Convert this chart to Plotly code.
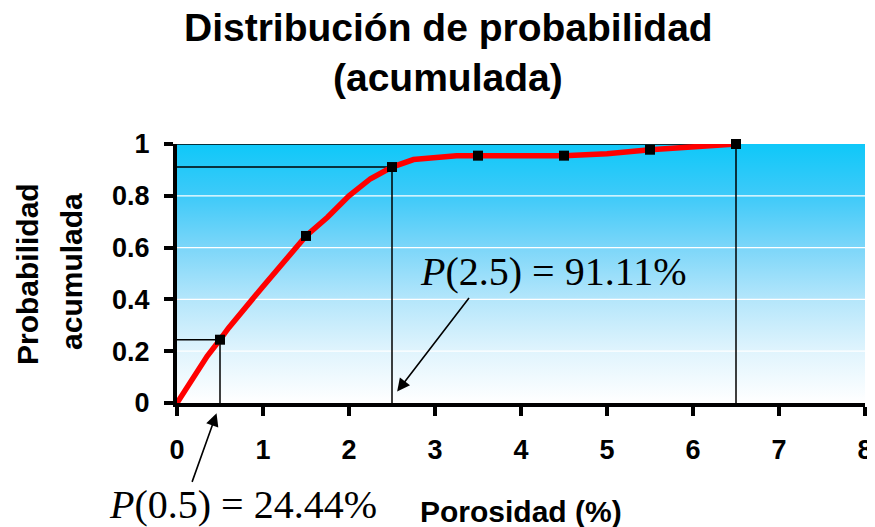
import plotly.graph_objects as go

# ---- data ----
x_markers = [0.5, 1.5, 2.5, 3.5, 4.5, 5.5, 6.5]
p_markers = [0.2444, 0.645, 0.9111, 0.955, 0.955, 0.978, 1.0]

curve_x = [0, 0.35, 0.5, 0.6, 1.0, 1.5, 1.75, 2.0, 2.25, 2.5, 2.75, 3.25, 3.5, 4.5, 5.0, 5.5, 6.5]
curve_y = [0, 0.18, 0.2444, 0.29, 0.45, 0.645, 0.717, 0.80, 0.866, 0.9111, 0.94, 0.955, 0.955, 0.955, 0.962, 0.978, 1.0]

guide_x = [0.5, 2.5, 6.5]
guide_p = [0.2444, 0.9111, 1.0]

x_ticks = [0, 1, 2, 3, 4, 5, 6, 7, 8]
y_ticks = [0, 0.2, 0.4, 0.6, 0.8, 1]
y_tick_labels = ["0", "0.2", "0.4", "0.6", "0.8", "1"]

title_lines = ["Distribución de probabilidad", "(acumulada)"]
x_title = "Porosidad (%)"
y_title_lines = ["Probabilidad", "acumulada"]
label_25 = "<i>P</i>(2.5) = 91.11%"
label_05 = "<i>P</i>(0.5) = 24.44%"

# ---- figure ----
X0, X1 = x_ticks[0], x_ticks[-1]
Y0, Y1 = y_ticks[0], y_ticks[-1]

SANS = "Liberation Sans, Arial, sans-serif"
SERIF = "Liberation Serif, Times New Roman, serif"

fig = go.Figure()

# gradient background
fig.add_trace(go.Scatter(
    x=[X0, X1, X1, X0, X0], y=[Y0, Y0, Y1, Y1, Y0],
    mode="lines", line=dict(width=0), fill="toself",
    fillgradient=dict(type="vertical", colorscale=[
        [0.0, "#ffffff"], [0.2, "#e0f4fd"], [0.4, "#b4e6fb"],
        [0.6, "#7cd6f9"], [0.8, "#3ecaf9"], [1.0, "#0fc8f9"]]),
    hoverinfo="skip", showlegend=False))

# white gridlines
for v in y_ticks[1:-1]:
    fig.add_trace(go.Scatter(x=[X0, X1], y=[v, v], mode="lines",
                             line=dict(color="white", width=1.2),
                             hoverinfo="skip", showlegend=False))

# guide lines
for gx, gp in zip(guide_x, guide_p):
    fig.add_trace(go.Scatter(x=[X0, gx, gx], y=[gp, gp, Y0], mode="lines",
                             line=dict(color="black", width=1.5),
                             hoverinfo="skip", showlegend=False))

# red curve
fig.add_trace(go.Scatter(x=curve_x, y=curve_y, mode="lines",
                         line=dict(color="#ff0000", width=5.5),
                         hoverinfo="skip", showlegend=False))

# markers
fig.add_trace(go.Scatter(x=x_markers, y=p_markers, mode="markers",
                         marker=dict(symbol="square", size=10, color="black"),
                         hoverinfo="skip", showlegend=False, cliponaxis=False))

axis_common = dict(showline=True, linecolor="black", linewidth=4,
                   ticks="outside", ticklen=9, tickwidth=4, tickcolor="black",
                   showgrid=False, zeroline=False, automargin=False,
                   tickfont=dict(family=SANS, size=27, color="black", weight="bold"))

fig.update_xaxes(range=[X0, X1], tickvals=x_ticks, ticktext=[str(t) for t in x_ticks],
                 ticklabelstandoff=11, **axis_common)
fig.update_yaxes(range=[Y0, Y1], tickvals=y_ticks, ticktext=y_tick_labels,
                 ticklabelstandoff=9, **axis_common)

bold_sans = lambda s: dict(family=SANS, size=s, color="black", weight="bold")

annotations = [
    dict(text=title_lines[0], xref="paper", yref="paper", x=(448 - 177) / 688, y=1.448,
         xanchor="center", yanchor="middle", showarrow=False, font=bold_sans(39)),
    dict(text=title_lines[1], xref="paper", yref="paper", x=(448 - 177) / 688, y=1.255,
         xanchor="center", yanchor="middle", showarrow=False, font=bold_sans(39)),
    dict(text=x_title, xref="paper", yref="paper", x=0.5, y=-0.42,
         xanchor="center", yanchor="middle", showarrow=False, font=bold_sans(30)),
    dict(text=y_title_lines[0], xref="paper", yref="paper", x=-0.218, y=0.498,
         xanchor="center", yanchor="middle", textangle=-90, showarrow=False,
         font=bold_sans(30)),
    dict(text=y_title_lines[1], xref="paper", yref="paper", x=-0.1526, y=0.506,
         xanchor="center", yanchor="middle", textangle=-90, showarrow=False,
         font=bold_sans(30)),
    # labels
    dict(text=label_25, xref="paper", yref="paper", x=4.37 / X1, y=0.506,
         xanchor="center", yanchor="middle", showarrow=False,
         font=dict(family=SERIF, size=40, color="black")),
    dict(text=label_05, xref="paper", yref="paper", x=0.77 / X1, y=-0.392,
         xanchor="center", yanchor="middle", showarrow=False,
         font=dict(family=SERIF, size=40, color="black")),
    # arrows (head at the reference point, tail offset in pixels)
    dict(text="", xref="paper", yref="paper", x=2.56 / X1, y=0.044,
         axref="pixel", ayref="pixel", ax=73, ay=-95, showarrow=True,
         arrowhead=2, arrowsize=1.6, arrowwidth=1.6, arrowcolor="black"),
    dict(text="", xref="paper", yref="paper", x=0.46 / X1, y=-0.04,
         axref="pixel", ayref="pixel", ax=-25, ay=70, showarrow=True,
         arrowhead=2, arrowsize=1.6, arrowwidth=1.6, arrowcolor="black"),
]

# the page body adds an 8px offset, so the figure is sized/margined to compensate
fig.update_layout(
    width=867, height=519,
    margin=dict(l=169, r=10, t=136, b=124),
    paper_bgcolor="white", plot_bgcolor="white",
    showlegend=False,
    annotations=annotations,
)

fig.write_html("out.html")
